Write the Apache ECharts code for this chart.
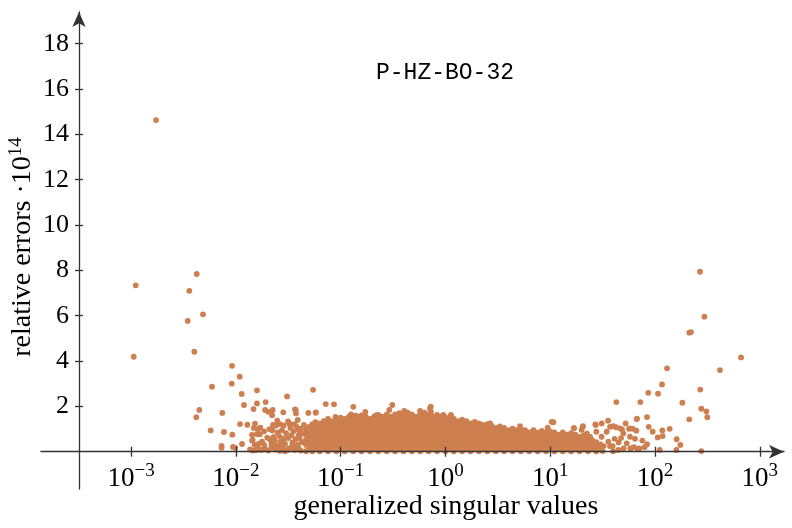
<!DOCTYPE html>
<html>
<head>
<meta charset="utf-8">
<script src="https://cdn.jsdelivr.net/npm/echarts@6/dist/echarts.min.js"></script>
<style>html,body{margin:0;padding:0;background:#fff}#c{width:792px;height:528px}</style>
</head>
<body>
<div id="c"></div>
<script>
// x values are stored as log10(generalized singular value); y = relative error * 1e14
const title = 'P-HZ-BO-32';
const xName = 'generalized singular values';
const yName = 'relative errors ·10';
const yNameExp = '14';
const xTickExponents = [-3, -2, -1, 0, 1, 2, 3];
const yTickValues = [2, 4, 6, 8, 10, 12, 14, 16, 18];

// isolated points, small singular values
const leftPoints = [
  [-2.761,14.63],[-2.955,7.34],[-2.974,4.19],[-2.373,7.84],[-2.444,7.10],[-2.313,6.06],[-2.459,5.77],
  [-2.396,4.41],[-2.036,3.79],[-1.963,3.31],[-2.227,2.87],[-2.039,3.0],[-1.944,2.55],[-1.798,2.71],
  [-1.922,2.06],[-1.798,2.13],[-1.831,1.88],[-2.348,1.84],[-2.377,1.52],[-2.129,1.71],[-1.960,1.22],
  [-1.890,1.19],[-1.829,1.05],[-2.240,0.94],[-2.113,0.87],[-2.033,0.75],[-1.845,0.74],[-1.845,0.49],
  [-2.136,0.26],[-2.136,0.18],[-2.027,0.21],[-2.005,0.17],[-1.941,0.34],[-1.864,0.10],[-1.840,0.05]
];
// sparse region in front of the dense band
const leftSparse = [
  [-1.715,2.19],[-1.511,2.44],[-1.72,1.84],[-1.69,1.76],[-1.648,1.84],[-1.654,1.61],[-1.547,1.74],
  [-1.428,1.85],[-1.426,1.69],[-1.308,1.71],[-1.238,1.72],[-1.142,2.10],[-1.063,2.09],[-1.263,2.73],
  [-1.604,1.37],[-1.502,1.34],[-1.645,1.18],[-1.817,1.24],[-1.766,1.06],[-1.543,1.16],[-1.409,1.40],
  [-1.80,0.78],[-1.77,0.77],[-1.652,0.94],[-1.585,0.69],[-1.674,0.54],[-1.626,0.49],[-1.839,0.52],[-1.75,0.44],
  [-1.81,0.06],[-1.79,0.15],[-1.76,0.08],[-1.72,0.12],[-1.69,0.05],[-1.66,0.18],[-1.62,0.10],[-1.58,0.04],
  [-1.55,0.16],[-1.51,0.07],[-1.47,0.20],[-1.44,0.08],[-1.40,0.15],
  [-1.82,0.30],[-1.78,0.36],[-1.73,0.30],[-1.70,0.62],[-1.66,0.33],[-1.61,0.28],[-1.57,0.45],[-1.53,0.34],
  [-1.50,0.60],[-1.46,0.40],[-1.43,0.55],[-1.41,0.30],
  [-1.79,1.00],[-1.73,0.90],[-1.68,1.00],[-1.60,0.85],[-1.56,0.95],[-1.52,0.82],[-1.48,1.05],[-1.45,0.90],
  [-1.42,1.10],[-1.40,0.72],[-1.62,1.15],[-1.58,1.22],[-1.49,1.25],[-1.44,1.22],[-1.40,0.95],
  [-1.38,0.05],[-1.37,0.42],[-1.39,0.58],[-1.36,0.80],[-1.38,1.02],[-1.35,1.18],[-1.47,0.72],[-1.54,0.58],
  [-1.57,0.22],[-1.64,0.65],[-1.53,0.02],[-1.45,0.28],[-1.49,0.15]
];
// dense band: [log10 x, list of errors]
const bandColumns = [
  [-1.33,[0.02,0.3,0.52,0.75,0.98]],
  [-1.30,[0.15,0.4,0.62,0.85,1.1]],
  [-1.27,[0.02,0.25,0.45,0.65,0.85,1.05,1.22]],
  [-1.24,[0.15,0.35,0.55,0.75,0.95,1.15,1.3]],
  [-1.20,[0.02,0.25,0.45,0.65,0.85,1.05,1.25]],
  [-1.16,[0.15,0.35,0.55,0.75,0.95,1.15,1.35]],
  [-1.12,[0.02,0.25,0.45,0.65,0.85,1.05,1.25,1.45]],
  [-1.08,[0.15,0.35,0.55,0.75,0.95,1.15,1.35]],
  [-1.04,[0.02,0.25,0.45,0.65,0.85,1.05,1.25,1.45]],
  [-1.00,[0.15,0.35,0.55,0.75,0.95,1.15,1.35,1.5]],
  [-0.96,[0.02,0.25,0.45,0.65,0.85,1.05,1.25,1.45]],
  [-0.92,[0.15,0.35,0.55,0.75,0.95,1.15,1.35,1.55]],
  [-0.88,[0.02,0.25,0.45,0.65,0.85,1.05,1.25,1.45]],
  [-0.84,[0.15,0.35,0.55,0.75,0.95,1.15,1.35,1.55]],
  [-0.80,[0.02,0.25,0.45,0.65,0.85,1.05,1.25,1.45,1.6]],
  [-0.76,[0.15,0.35,0.55,0.75,0.95,1.15,1.35,1.55]],
  [-0.72,[0.02,0.25,0.45,0.65,0.85,1.05,1.25,1.45]],
  [-0.68,[0.15,0.35,0.55,0.75,0.95,1.15,1.35,1.55]],
  [-0.64,[0.02,0.25,0.45,0.65,0.85,1.05,1.25,1.45,1.62]],
  [-0.60,[0.15,0.35,0.55,0.75,0.95,1.15,1.35,1.55]],
  [-0.56,[0.02,0.25,0.45,0.65,0.85,1.05,1.25,1.45,1.65]],
  [-0.52,[0.15,0.35,0.55,0.75,0.95,1.15,1.35,1.55]],
  [-0.48,[0.02,0.25,0.45,0.65,0.85,1.05,1.25,1.45,1.65]],
  [-0.44,[0.15,0.35,0.55,0.75,0.95,1.15,1.35,1.55,1.7]],
  [-0.40,[0.02,0.25,0.45,0.65,0.85,1.05,1.25,1.45,1.65]],
  [-0.36,[0.15,0.35,0.55,0.75,0.95,1.15,1.35,1.55,1.72]],
  [-0.32,[0.02,0.25,0.45,0.65,0.85,1.05,1.25,1.45,1.65]],
  [-0.28,[0.15,0.35,0.55,0.75,0.95,1.15,1.35,1.55]],
  [-0.24,[0.02,0.25,0.45,0.65,0.85,1.05,1.25,1.45,1.65]],
  [-0.20,[0.15,0.35,0.55,0.75,0.95,1.15,1.35,1.55,1.72]],
  [-0.16,[0.02,0.25,0.45,0.65,0.85,1.05,1.25,1.45,1.65]],
  [-0.12,[0.15,0.35,0.55,0.75,0.95,1.15,1.35,1.55]],
  [-0.08,[0.02,0.25,0.45,0.65,0.85,1.05,1.25,1.45,1.62]],
  [-0.04,[0.15,0.35,0.55,0.75,0.95,1.15,1.35,1.55]],
  [0.00,[0.02,0.25,0.45,0.65,0.85,1.05,1.25,1.45]],
  [0.04,[0.15,0.35,0.55,0.75,0.95,1.15,1.35,1.52]],
  [0.08,[0.02,0.25,0.45,0.65,0.85,1.05,1.25,1.45]],
  [0.12,[0.15,0.35,0.55,0.75,0.95,1.15,1.35]],
  [0.16,[0.02,0.25,0.45,0.65,0.85,1.05,1.25,1.42]],
  [0.20,[0.15,0.35,0.55,0.75,0.95,1.15,1.35]],
  [0.24,[0.02,0.25,0.45,0.65,0.85,1.05,1.25]],
  [0.28,[0.15,0.35,0.55,0.75,0.95,1.15,1.32]],
  [0.32,[0.02,0.25,0.45,0.65,0.85,1.05,1.25]],
  [0.36,[0.15,0.35,0.55,0.75,0.95,1.15]],
  [0.40,[0.02,0.25,0.45,0.65,0.85,1.05,1.22]],
  [0.44,[0.15,0.35,0.55,0.75,0.95,1.15]],
  [0.48,[0.02,0.25,0.45,0.65,0.85,1.05]],
  [0.52,[0.15,0.35,0.55,0.75,0.95,1.12]],
  [0.56,[0.02,0.25,0.45,0.65,0.85,1.05]],
  [0.60,[0.15,0.35,0.55,0.75,0.95]],
  [0.64,[0.02,0.25,0.45,0.65,0.85,1.02]],
  [0.68,[0.15,0.35,0.55,0.75,0.95]],
  [0.72,[0.02,0.25,0.45,0.65,0.85,1.0]],
  [0.76,[0.15,0.35,0.55,0.75,0.95]],
  [0.80,[0.02,0.25,0.45,0.65,0.85]],
  [0.84,[0.15,0.35,0.55,0.75,0.95]],
  [0.88,[0.02,0.25,0.45,0.65,0.85]],
  [0.92,[0.15,0.35,0.55,0.75,0.92]],
  [0.96,[0.02,0.25,0.45,0.65,0.85]],
  [1.00,[0.15,0.35,0.55,0.75,0.9]],
  [1.04,[0.02,0.25,0.45,0.65,0.85]],
  [1.08,[0.15,0.35,0.55,0.75]],
  [1.12,[0.02,0.25,0.45,0.65,0.85]],
  [1.16,[0.15,0.35,0.55,0.75]],
  [1.20,[0.02,0.25,0.45,0.65,0.82]],
  [1.24,[0.15,0.35,0.55,0.75]],
  [1.28,[0.02,0.25,0.45,0.65]],
  [1.32,[0.15,0.35,0.55,0.72]],
  [1.36,[0.02,0.25,0.45,0.62]],
  [1.40,[0.15,0.35,0.52]],
  [1.44,[0.02,0.25,0.42]],
  [1.48,[0.15,0.32]]
];
// points sticking out above the dense band
const bandTopPoints = [
  [-1.435,1.87],[-1.235,1.74],[-1.049,1.54],[-0.879,1.98],[-0.901,1.65],[-0.856,1.59],[-0.764,1.76],
  [-0.659,1.61],[-0.535,1.84],[-0.507,2.06],[-0.392,1.80],[-0.402,1.69],[-0.242,1.80],[-0.147,1.91],
  [-0.137,1.76],[-0.14,1.99],[-0.052,1.47],[-0.02,1.62],[-0.013,1.57],[0.053,1.57],[0.053,1.62],
  [0.171,1.25],[0.171,1.28],[0.273,1.08],[0.356,1.18],[0.426,1.25],[0.521,1.03],[0.712,1.13],
  [1.014,1.32],[1.03,1.30],[0.976,1.06],[1.227,1.03],[1.31,1.10],[1.434,1.18]
];
// sparse region after the dense band, and large singular values
const rightPoints = [
  [1.631,2.19],[1.860,2.19],[2.261,2.16],[2.442,1.90],[2.490,1.78],[2.499,1.52],[2.327,1.43],[1.828,1.46],
  [1.924,1.53],[1.94,1.10],[2.140,1.01],[2.070,0.94],[1.978,0.88],[2.026,0.63],[2.073,0.69],[2.207,0.55],
  [2.242,0.30],[2.204,0.08],[2.045,0.08],[2.442,0.03],[1.764,0.15],[1.835,0.11],[1.879,0.49],[1.90,0.20],
  [1.924,0.33],[1.822,0.93],[1.809,0.57],[1.72,1.25],[1.752,1.01],[1.787,1.01],[1.552,1.37],[1.491,1.25],
  [1.431,1.21],[1.313,1.13],[1.227,1.05],
  [1.571,1.10],[1.60,1.13],[1.666,1.03],[1.685,0.99],[1.698,0.81],[1.676,0.60],[1.653,0.41],[1.615,0.57],
  [1.596,0.25],[1.434,0.40],[1.43,0.12],[1.50,0.03],[1.60,0.02],[1.555,0.44],[1.49,0.66],[1.539,0.88],
  [1.44,0.88],[1.38,0.66],[1.51,0.25],[1.761,0.66],[1.73,0.37],[1.80,0.20],[1.65,0.08],[1.70,0.15],
  [1.30,0.96],[1.35,0.80],[1.628,1.08],[1.761,1.03],[1.825,1.44],[1.771,0.15],[1.85,0.15],[1.571,0.25],
  [2.429,7.94],[2.471,5.96],[2.327,5.25],[2.343,5.28],[2.821,4.16],[2.620,3.60],[2.115,3.68],[2.067,2.97],
  [1.936,2.60],[2.029,2.56],[2.432,2.74]
];

const pts = [];
const add = (e, y) => pts.push([Math.pow(10, e), y]);
leftPoints.forEach(p => add(p[0], p[1]));
leftSparse.forEach(p => add(p[0], p[1]));
bandColumns.forEach(c => c[1].forEach(y => add(c[0], y)));
bandTopPoints.forEach(p => add(p[0], p[1]));
rightPoints.forEach(p => add(p[0], p[1]));

const SERIF = '"Liberation Serif", "DejaVu Serif", serif';
const MONO = '"Liberation Mono", "DejaVu Sans Mono", monospace';
const AX = '#333';
const xTicks = xTickExponents.map(e => Math.pow(10, e));
const xMin = Math.pow(10, -3.859), xMax = Math.pow(10, 3.231);
const yMin = -1.645, yMax = 19.4;

const chart = echarts.init(document.getElementById('c'), null, {renderer: 'canvas'});
chart.setOption({
  animation: false,
  backgroundColor: '#fff',
  grid: {left: 41, right: 8, top: 12, bottom: 39, containLabel: false},
  xAxis: [{
    type: 'log', min: xMin, max: xMax, position: 'bottom', z: 5,
    axisLine: {show: true, onZero: true, onZeroAxisIndex: 0, symbol: ['none', 'arrow'], symbolSize: [10, 15],
      lineStyle: {color: AX, width: 1.3}},
    axisTick: {show: true, customValues: xTicks, length: 5, lineStyle: {color: AX, width: 1.3}},
    axisLabel: {show: true, customValues: xTicks, margin: -27,
      formatter: v => {
        const e = Math.round(Math.log10(v));
        return '{b|10}{s|' + (e < 0 ? '\u2212' : '') + Math.abs(e) + '}';
      },
      rich: {
        b: {fontSize: 27, fontFamily: SERIF, color: '#000', lineHeight: 30, verticalAlign: 'bottom'},
        s: {fontSize: 19, fontFamily: SERIF, color: '#000', lineHeight: 19, verticalAlign: 'top'}
      }},
    splitLine: {show: false}, minorTick: {show: false}
  }, {
    type: 'log', min: xMin, max: xMax, position: 'bottom', z: 5,
    axisLine: {show: false, onZero: true, onZeroAxisIndex: 1},
    axisTick: {show: true, inside: true, customValues: xTicks, length: 5, lineStyle: {color: AX, width: 1.3}},
    axisLabel: {show: false}, splitLine: {show: false}
  }],
  yAxis: [{
    type: 'value', min: yMin, max: yMax, position: 'left', offset: -38, z: 5,
    axisLine: {show: true, onZero: false, symbol: ['none', 'arrow'], symbolSize: [10, 15],
      lineStyle: {color: AX, width: 1.3}},
    axisTick: {show: true, customValues: yTickValues, length: 4, lineStyle: {color: AX, width: 1.3}},
    axisLabel: {show: true, customValues: yTickValues, margin: 10, fontSize: 26, fontFamily: SERIF, color: '#000'},
    splitLine: {show: false}
  }, {
    type: 'value', min: yMin, max: yMax, position: 'left', offset: -38, z: 5,
    axisLine: {show: false, onZero: false},
    axisTick: {show: true, inside: true, customValues: yTickValues, length: 4, lineStyle: {color: AX, width: 1.3}},
    axisLabel: {show: false}, splitLine: {show: false}
  }],
  series: [{
    type: 'scatter', xAxisIndex: 0, yAxisIndex: 0, data: pts,
    symbol: 'circle', symbolSize: 5.8,
    itemStyle: {color: '#CD7F4F', opacity: 1},
    emphasis: {disabled: true}, z: 2
  }],
  graphic: [
    {type: 'text', x: 445, y: 73, style: {text: title, fontSize: 23, fontFamily: MONO, fill: '#000', align: 'center', verticalAlign: 'middle'}},
    {type: 'text', x: 446, y: 507, style: {text: xName, fontSize: 28, fontFamily: SERIF, fill: '#000', align: 'center', verticalAlign: 'middle'}},
    {type: 'text', x: 22, y: 247, rotation: Math.PI / 2, style: {
      text: '{n|' + yName + '}{s|' + yNameExp + '}', align: 'center', verticalAlign: 'middle',
      rich: {
        n: {fontSize: 28, fontFamily: SERIF, fill: '#000', lineHeight: 30, verticalAlign: 'bottom'},
        s: {fontSize: 19, fontFamily: SERIF, fill: '#000', lineHeight: 19, verticalAlign: 'top'}
      }}}
  ]
});
</script>
</body>
</html>
